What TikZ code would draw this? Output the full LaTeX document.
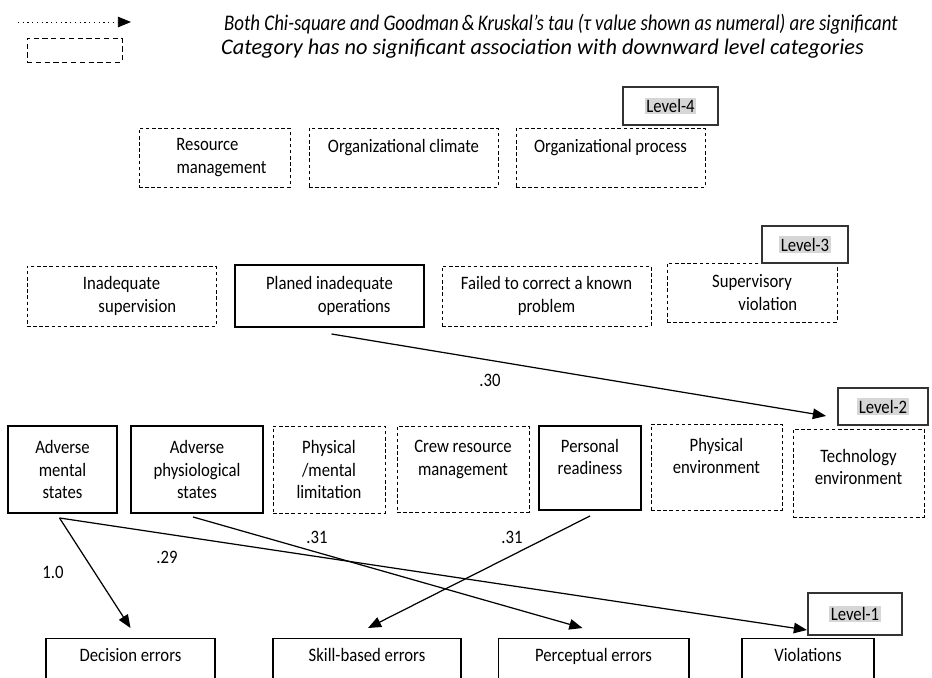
\documentclass[tikz,border=0pt]{standalone}
\usepackage{fontspec}
\setmainfont{Carlito}
\newfontfamily\boxfont[FakeStretch=0.88]{Carlito}
\usepackage{tikz}
\usetikzlibrary{arrows.meta,calc}
\definecolor{lvgray}{RGB}{214,214,214}
\newcommand{\lvtxt}[1]{{\setlength{\fboxsep}{1pt}\colorbox{lvgray}{#1}}}

\begin{document}
\begin{tikzpicture}[x=0.02cm, y=-0.02cm,
  every node/.style={font=\boxfont\fontsize{10.8}{12.8}\selectfont},
  box/.style={draw, line width=1.1pt, align=center, inner sep=2pt},
  dbox/.style={draw, line width=0.5pt, dash pattern=on 2pt off 1.5pt, align=center, inner sep=2pt},
  lvl/.style={draw=black!80, line width=1.1pt, fill=white, inner sep=2pt},
  errbox/.style={draw, line width=0.6pt, anchor=north, inner ysep=6pt, text height=7pt, text depth=40pt},
  arr/.style={-{Triangle[length=7.5pt,width=6pt]}, line width=0.7pt},
  num/.style={font=\boxfont\fontsize{10.8}{12}\selectfont}]

\useasboundingbox (0,0) rectangle (932,677);
\clip (0,0) rectangle (932,677);

% Legend
\coordinate (lga) at (18,22);
\coordinate (lgb) at (131,22);
\draw[arr, dotted, line width=0.5pt] (lga) -- (lgb);
\node[draw, line width=0.5pt, dash pattern=on 3pt off 2pt, minimum width=1.9cm, minimum height=0.48cm] (lgbox) at (74.5,50) {};
\node[anchor=west, font=\fontsize{12.7}{14}\selectfont\itshape] (lgt1) at (218,24)
  {\scalebox{0.845}[1]{Both Chi-square and Goodman\,\&\,Kruskal’s tau (τ value shown as numeral) are significant}};
\node[anchor=west, font=\fontsize{12.7}{14}\selectfont\itshape] (lgt2) at (215,49)
  {Category has no significant association with downward level categories};

% Level-4
\node[dbox, minimum width=3.02cm, minimum height=1.18cm] (rsm) at (214.5,157.5) {Resource\hspace*{8pt}\\\hspace*{8pt}management};
\node[dbox, minimum width=3.78cm, minimum height=1.18cm] (orc) at (403.5,157.5) {Organizational climate\\~};
\node[dbox, minimum width=3.78cm, minimum height=1.18cm] (orp) at (610.5,157.5) {Organizational process\\~};
\node[lvl, minimum width=1.9cm, minimum height=0.76cm] (lv4) at (670.5,106) {\lvtxt{Level-4}};

% Level-3
\node[dbox, minimum width=3.78cm, minimum height=1.2cm] (ins) at (121.5,296) {Inadequate\\\hspace*{18pt}supervision};
\node[box, minimum width=3.78cm, minimum height=1.24cm] (pio) at (329.5,296) {Planed inadequate\\\hspace*{28pt}operations};
\node[dbox, minimum width=4.18cm, minimum height=1.2cm] (fck) at (546.5,296) {Failed to correct a known\\problem};
\node[dbox, minimum width=3.4cm, minimum height=1.18cm] (svv) at (752,292.5) {Supervisory\\\hspace*{18pt}violation};
\node[lvl, minimum width=1.72cm, minimum height=0.74cm] (lv3) at (805,244.5) {\lvtxt{Level-3}};

% Level-2
\node[box, minimum width=2.18cm, minimum height=1.74cm] (ams) at (62.5,469.5) {Adverse\\mental\\states};
\node[box, minimum width=2.64cm, minimum height=1.74cm] (aps) at (197,469.5) {Adverse\\physiological\\states};
\node[dbox, minimum width=2.24cm, minimum height=1.74cm] (pml) at (329,469.5) {Physical\\/mental\\limitation};
\node[dbox, minimum width=2.64cm, minimum height=1.72cm] (crm) at (463,469) {Crew resource\\management\\~};
\node[box, minimum width=2.04cm, minimum height=1.68cm] (prd) at (590,468) {Personal\\readiness\\~};
\node[dbox, minimum width=2.62cm, minimum height=1.72cm] (phe) at (716.5,467) {Physical\\environment\\~};
\node[dbox, minimum width=2.62cm, minimum height=1.76cm] (tce) at (858.5,473) {Technology\\environment\\[-6pt]~};
\node[lvl, minimum width=1.8cm, minimum height=0.74cm] (lv2) at (883,406.5) {\lvtxt{Level-2}};

% Level-1
\node[errbox, minimum width=3.38cm] (dec) at (130.5,638) {Decision errors};
\node[errbox, minimum width=3.76cm] (skl) at (367,638) {Skill-based errors};
\node[errbox, minimum width=3.82cm] (per) at (593.5,638) {Perceptual errors};
\node[errbox, minimum width=2.64cm] (vio) at (808,638) {Violations};
\node[lvl, minimum width=1.88cm, minimum height=0.84cm] (lv1) at (855,614) {\lvtxt{Level-1}};

% Arrows
\draw[arr] ($(pio.south)+(2,6)$) -- ($(lv2.south west)+(-11,-10)$);
\draw[arr] ($(ams.south)+(-3,4)$) -- ($(dec.north)+(0,-10)$);
\draw[arr] ($(ams.south)+(-3,4)$) -- ($(vio.north)+(-1,-8)$);
\draw[arr] ($(aps.south)+(-4,3)$) -- ($(per.north)+(-11,-10)$);
\draw[arr] ($(prd.south)+(0,5)$) -- ($(skl.north)+(1,-10)$);

% Values
\node[num] (v30) at (490,380) {.30};
\node[num] (v10) at (53,572) {1.0};
\node[num] (v29) at (167,557) {.29};
\node[num] (v31a) at (317,537) {.31};
\node[num] (v31b) at (512,537) {.31};

\end{tikzpicture}
\end{document}
